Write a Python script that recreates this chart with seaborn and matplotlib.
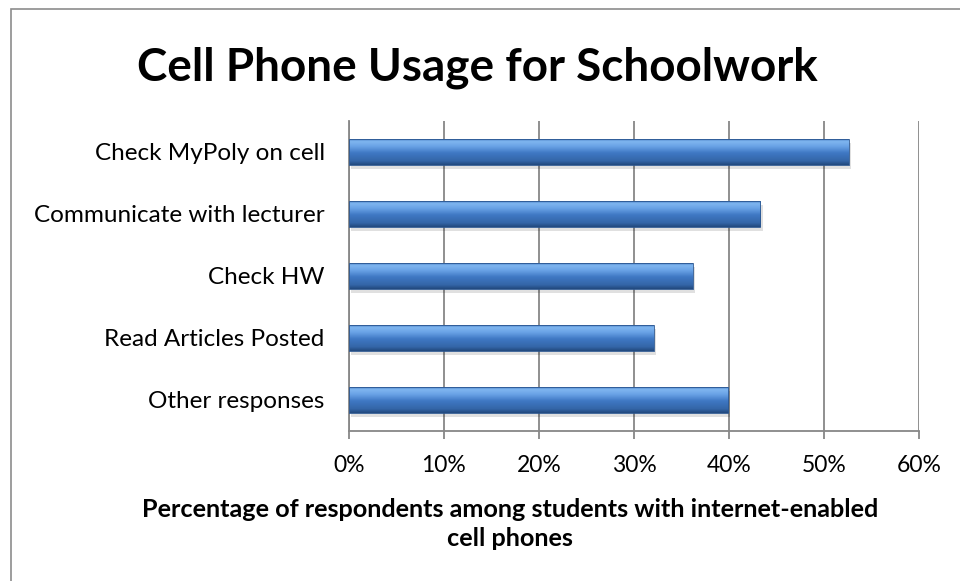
import numpy as np
import pandas as pd
import matplotlib
matplotlib.use('Agg')
import matplotlib.pyplot as plt
import seaborn as sns
from matplotlib.colors import LinearSegmentedColormap
from matplotlib.patches import Rectangle
from matplotlib.ticker import FuncFormatter

categories = ['Check MyPoly on cell', 'Communicate with lecturer', 'Check HW',
              'Read Articles Posted', 'Other responses']
values = [52.6, 43.3, 36.2, 32.1, 39.9]
x_ticks = [0, 10, 20, 30, 40, 50, 60]

df = pd.DataFrame({'task': categories, 'pct': values})

sns.set_style('white')
plt.rcParams['font.family'] = ['Lato', 'DejaVu Sans']
plt.rcParams['text.color'] = 'black'
plt.rcParams['xtick.labelcolor'] = 'black'
plt.rcParams['ytick.labelcolor'] = 'black'

grid_col = '#878787'

fig = plt.figure(figsize=(9.6, 5.81), dpi=100)
ax = fig.add_axes([0.3635, 0.2582, 0.59375, 0.5336])

sns.barplot(data=df, x='pct', y='task', orient='h', width=0.42,
            color='#4a86d0', ax=ax)

# gradient fill to mimic the Excel bevel look
bar_cmap = LinearSegmentedColormap.from_list(
    'bevel', [(0, '#3d70b8'), (0.12, '#7fb6f0'), (0.3, '#6aa3e6'),
              (0.55, '#3f78c4'), (0.85, '#3466a8'), (1, '#22497e')])
grad = np.linspace(0, 1, 64).reshape(-1, 1)
for bar in list(ax.patches):
    x0, y0 = bar.get_xy()
    w, h = bar.get_width(), bar.get_height()
    shadow = Rectangle((x0 + 0.25, y0 + 0.06), w, h, color='#000000',
                       alpha=0.12, lw=0, zorder=1.5)
    ax.add_patch(shadow)
    bar.set_facecolor('none')
    bar.set_edgecolor('#2a5690')
    bar.set_linewidth(0.6)
    bar.set_zorder(3)
    im = ax.imshow(grad, cmap=bar_cmap, aspect='auto',
                   extent=(x0, x0 + w, y0 + h, y0), zorder=2.5)
    im.set_clip_path(bar)

ax.set_xlim(0, 60)
ax.set_ylim(4.5, -0.5)
ax.set_xticks(x_ticks)
ax.xaxis.set_major_formatter(FuncFormatter(lambda v, p: f'{v:.0f}%'))
ax.xaxis.grid(True, color=grid_col, lw=1.3)
ax.set_axisbelow(True)
for s in ['top', 'right']:
    ax.spines[s].set_visible(False)
for s in ['left', 'bottom']:
    ax.spines[s].set_color(grid_col)
    ax.spines[s].set_linewidth(1.3)
ax.tick_params(axis='x', bottom=True, length=6, width=1.3, color=grid_col,
               labelsize=16.5, pad=11, labelcolor='black')
ax.tick_params(axis='y', left=False, labelsize=17.5, pad=14, labelcolor='black')
ax.set_xlabel('')
ax.set_ylabel('')

fig.text(477 / 960, 1 - 68 / 581, 'Cell Phone Usage for Schoolwork',
         ha='center', va='center', fontsize=33, fontweight='bold', color='black')
fig.text(510 / 960, 1 - 524 / 581,
         'Percentage of respondents among students with internet-enabled\ncell phones',
         ha='center', va='center', fontsize=18.2, fontweight='bold', color='black',
         multialignment='center', linespacing=1.33)

fig.patches.append(Rectangle((11 / 960, -0.1), 1.2, 1.1 - 9 / 581,
                             transform=fig.transFigure, fill=False,
                             ec='#8c8c8c', lw=1.2))

fig.savefig('out.png', dpi=100)
